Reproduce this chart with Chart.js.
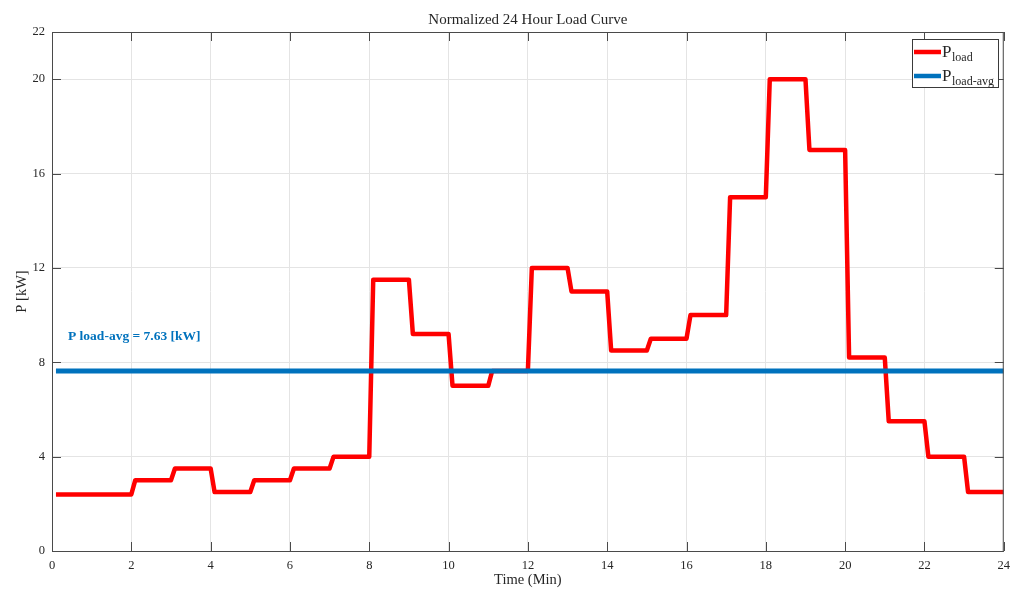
<!DOCTYPE html>
<html>
<head>
<meta charset="utf-8">
<script src="https://cdn.jsdelivr.net/npm/chart.js@4/dist/chart.umd.min.js"></script>
<style>
  body { margin: 0; background: #fff; }
  canvas { display: block; }
</style>
</head>
<body>
<canvas id="loadChart" width="1017" height="590"></canvas>
<script>
// Load curve (time in min, power in kW)
const timeMin = [0.1, 2, 2.1, 3, 3.1, 4, 4.1, 5, 5.1, 6, 6.1, 7, 7.1, 8, 8.1, 9, 9.1, 10, 10.1, 11,
    11.1, 12, 12.1, 13, 13.1, 14, 14.1, 15, 15.1, 16, 16.1, 17, 17.1, 18, 18.1, 19, 19.1, 20,
    20.1, 21, 21.1, 22, 22.1, 23, 23.1, 24];
const loadKW = [2.4, 2.4, 3, 3, 3.5, 3.5, 2.5, 2.5, 3, 3, 3.5, 3.5, 4, 4, 11.5, 11.5, 9.2, 9.2, 7, 7,
    7.63, 7.63, 12, 12, 11, 11, 8.5, 8.5, 9, 9, 10, 10, 15, 15, 20, 20, 17, 17,
    8.2, 8.2, 5.5, 5.5, 4, 4, 2.5, 2.5];
const avgTime = [0.1, 24];
const avgKW = [7.63, 7.63];
const yTicks = [0, 4, 8, 12, 16, 20, 22];

const SERIF = '"Liberation Serif", "Times New Roman", serif';
const AXIS = '#4a4a4a';
const TEXT = '#262626';

// title, axis labels, box, inner ticks, note and legend (MATLAB look)
const extras = {
    id: 'extras',
    afterDatasetsDraw(chart) {
        const ctx = chart.ctx;
        const a = chart.chartArea;
        const xs = chart.scales.x, ys = chart.scales.y;
        ctx.save();

        // box + ticks pointing inward
        ctx.strokeStyle = AXIS;
        ctx.lineWidth = 1;
        ctx.strokeRect(a.left + 0.5, a.top + 0.5, a.right - a.left - 1, a.bottom - a.top);
        ctx.beginPath();
        for (let v = 0; v <= 24; v += 2) {
            const px = Math.round(xs.getPixelForValue(v)) + 0.5;
            ctx.moveTo(px, a.bottom); ctx.lineTo(px, a.bottom - 9);
            ctx.moveTo(px, a.top); ctx.lineTo(px, a.top + 9);
        }
        yTicks.forEach(v => {
            const py = Math.round(ys.getPixelForValue(v)) + 0.5;
            ctx.moveTo(a.left, py); ctx.lineTo(a.left + 9, py);
            ctx.moveTo(a.right, py); ctx.lineTo(a.right - 9, py);
        });
        ctx.stroke();

        // title and axis labels
        ctx.fillStyle = TEXT;
        ctx.textAlign = 'center';
        ctx.textBaseline = 'middle';
        ctx.font = '15px ' + SERIF;
        ctx.fillText('Normalized 24 Hour Load Curve', (a.left + a.right) / 2, 20);
        ctx.font = '14.5px ' + SERIF;
        ctx.fillText('Time (Min)', (a.left + a.right) / 2, 580);
        ctx.save();
        ctx.translate(22, (a.top + a.bottom) / 2);
        ctx.rotate(-Math.PI / 2);
        ctx.fillText('P [kW]', 0, 0);
        ctx.restore();

        // average note
        ctx.fillStyle = '#0072bd';
        ctx.textAlign = 'left';
        ctx.font = 'bold 13.5px ' + SERIF;
        ctx.fillText('P load-avg = ' + avgKW[0].toFixed(2) + ' [kW]', 68, 337);

        // legend
        const lx = 912, ly = 39, lw = 86, lh = 48;
        ctx.fillStyle = '#fff';
        ctx.fillRect(lx, ly, lw, lh);
        ctx.strokeStyle = '#3a3a3a';
        ctx.strokeRect(lx + 0.5, ly + 0.5, lw, lh);
        const items = [['#ff0000', 'load', 52], ['#0072bd', 'load-avg', 76]];
        items.forEach(([col, sub, y]) => {
            ctx.strokeStyle = col;
            ctx.lineWidth = 4.5;
            ctx.beginPath();
            ctx.moveTo(914, y); ctx.lineTo(941, y);
            ctx.stroke();
            ctx.fillStyle = TEXT;
            ctx.textBaseline = 'alphabetic';
            ctx.font = '17px ' + SERIF;
            ctx.fillText('P', 942, y + 5);
            ctx.font = '12px ' + SERIF;
            ctx.fillText(sub, 952, y + 9);
        });
        ctx.restore();
    }
};

new Chart(document.getElementById('loadChart'), {
    type: 'line',
    data: {
        datasets: [{
            label: 'Pload',
            data: timeMin.map((t, i) => ({ x: t, y: loadKW[i] })),
            borderColor: '#ff0000',
            borderWidth: 4.5,
            borderJoinStyle: 'round',
            pointRadius: 0,
            tension: 0,
            order: 1
        }, {
            label: 'Pload-avg',
            data: avgTime.map((t, i) => ({ x: t, y: avgKW[i] })),
            borderColor: '#0072bd',
            borderWidth: 5,
            pointRadius: 0,
            order: 0
        }]
    },
    options: {
        responsive: false,
        animation: false,
        layout: { padding: { top: 32, right: 10, left: 0, bottom: 0 } },
        plugins: {
            legend: { display: false },
            tooltip: { enabled: false }
        },
        scales: {
            x: {
                type: 'linear',
                min: 0,
                max: 24,
                ticks: { stepSize: 2, color: TEXT, padding: 7, maxRotation: 0, font: { family: SERIF, size: 12.5 } },
                grid: { color: '#e4e4e4', drawTicks: false },
                border: { display: false },
                afterFit: s => { s.height = 39; }
            },
            y: {
                min: 0,
                max: 22,
                afterBuildTicks: s => { s.ticks = yTicks.map(v => ({ value: v })); },
                ticks: { color: TEXT, padding: 7, font: { family: SERIF, size: 12.5 } },
                grid: { color: '#e4e4e4', drawTicks: false },
                border: { display: false },
                afterFit: s => { s.width = 52; }
            }
        }
    },
    plugins: [extras]
});
</script>
</body>
</html>
